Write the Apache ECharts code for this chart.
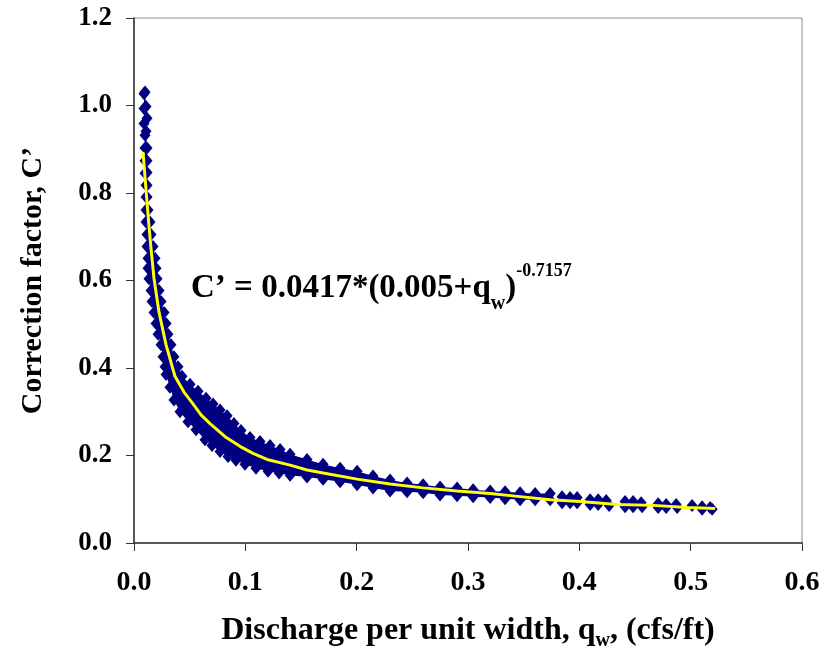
<!DOCTYPE html>
<html>
<head>
    <meta charset="UTF-8">
    <title>Correction factor</title>
    <script src="https://cdn.jsdelivr.net/npm/echarts@6/dist/echarts.min.js"></script>
    <style>
        html, body { margin: 0; padding: 0; background: #fff; overflow: hidden; }
        #chart { width: 823px; height: 656px; }
    </style>
</head>
<body>
<div id="chart"></div>
<script type="text/javascript">
    // axis ticks
    var xTicks = [0, 0.1, 0.2, 0.3, 0.4, 0.5, 0.6];
    var yTicks = [0, 0.2, 0.4, 0.6, 0.8, 1.0, 1.2];

    // upper (right-hand) edge of the scatter cloud, [qw, C']
    var bandUpper = [
        [0.0099, 1.031], [0.0108, 0.998], [0.0117, 0.971], [0.0108, 0.941], [0.0117, 0.903],
        [0.0117, 0.874], [0.0117, 0.847], [0.0117, 0.818], [0.0117, 0.791], [0.0126, 0.761],
        [0.0144, 0.734], [0.0153, 0.705], [0.0171, 0.678], [0.0189, 0.651], [0.0198, 0.628],
        [0.0207, 0.604], [0.0225, 0.577], [0.0243, 0.552], [0.0270, 0.527], [0.0288, 0.502],
        [0.0305, 0.477], [0.0332, 0.453], [0.0359, 0.426], [0.0395, 0.403], [0.0431, 0.381],
        [0.0503, 0.363], [0.0575, 0.347], [0.0647, 0.331], [0.0710, 0.318], [0.0773, 0.304],
        [0.0836, 0.291], [0.0898, 0.273], [0.0961, 0.257], [0.1042, 0.241], [0.1132, 0.232],
        [0.1222, 0.223], [0.1312, 0.214], [0.1402, 0.203], [0.1554, 0.191], [0.1698, 0.180],
        [0.1851, 0.171], [0.2004, 0.164], [0.2147, 0.153], [0.2300, 0.144], [0.2453, 0.137],
        [0.2597, 0.133], [0.2749, 0.128], [0.2902, 0.126], [0.3046, 0.122], [0.3199, 0.119],
        [0.3333, 0.117], [0.3468, 0.115], [0.3603, 0.113], [0.3738, 0.113]
    ];

    // lower (left-hand) edge of the scatter cloud
    var bandLower = [
        [0.0090, 1.027], [0.0090, 0.993], [0.0090, 0.959], [0.0099, 0.932], [0.0099, 0.903],
        [0.0099, 0.874], [0.0099, 0.845], [0.0108, 0.818], [0.0108, 0.791], [0.0108, 0.761],
        [0.0108, 0.734], [0.0117, 0.705], [0.0117, 0.678], [0.0126, 0.651], [0.0126, 0.628],
        [0.0135, 0.604], [0.0153, 0.577], [0.0162, 0.552], [0.0180, 0.527], [0.0198, 0.502],
        [0.0216, 0.477], [0.0243, 0.453], [0.0261, 0.426], [0.0279, 0.403], [0.0288, 0.385],
        [0.0323, 0.356], [0.0359, 0.327], [0.0413, 0.300], [0.0485, 0.277], [0.0557, 0.259],
        [0.0638, 0.236], [0.0701, 0.223], [0.0773, 0.209], [0.0845, 0.198], [0.0916, 0.189],
        [0.0997, 0.180], [0.1096, 0.171], [0.1204, 0.164], [0.1303, 0.160], [0.1402, 0.155],
        [0.1554, 0.151], [0.1698, 0.146], [0.1851, 0.140], [0.2004, 0.133], [0.2147, 0.126],
        [0.2300, 0.119], [0.2453, 0.117], [0.2597, 0.115], [0.2749, 0.110], [0.2902, 0.108],
        [0.3046, 0.106], [0.3199, 0.104], [0.3333, 0.101], [0.3468, 0.099], [0.3603, 0.099],
        [0.3738, 0.099]
    ];

    // sparse groups of points at the high-discharge end
    var tailPoints = [
        [0.3845, 0.106], [0.3845, 0.092], [0.3917, 0.104], [0.3917, 0.092], [0.3980, 0.104], [0.3980, 0.092],
        [0.4097, 0.099], [0.4097, 0.088], [0.4169, 0.099], [0.4169, 0.088], [0.4241, 0.097], [0.4268, 0.086],
        [0.4411, 0.095], [0.4411, 0.083], [0.4483, 0.095], [0.4483, 0.083], [0.4555, 0.092], [0.4564, 0.083],
        [0.4708, 0.090], [0.4708, 0.081], [0.4780, 0.088], [0.4780, 0.081], [0.4870, 0.088], [0.4879, 0.081],
        [0.5013, 0.086],
        [0.5103, 0.083], [0.5103, 0.077], [0.5175, 0.081], [0.5193, 0.077]
    ];

    // fitted curve (yellow)
    var fitLine = [
        [0.0081, 0.894], [0.0099, 0.836], [0.0117, 0.779], [0.0135, 0.723], [0.0153, 0.673],
        [0.0180, 0.604], [0.0225, 0.527], [0.0288, 0.453], [0.0368, 0.381], [0.0449, 0.345],
        [0.0530, 0.318], [0.0602, 0.293], [0.0683, 0.273], [0.0818, 0.243], [0.0952, 0.221],
        [0.1069, 0.205], [0.1195, 0.191], [0.1402, 0.178], [0.1554, 0.167], [0.1698, 0.160],
        [0.2004, 0.146], [0.2300, 0.135], [0.2597, 0.126], [0.2902, 0.119], [0.3199, 0.113],
        [0.3468, 0.106], [0.3738, 0.099], [0.4007, 0.095], [0.4340, 0.088], [0.4663, 0.086],
        [0.4969, 0.081], [0.5220, 0.079]
    ];

    var serif = 'Liberation Serif';
    var navy = '#000080';

    var option = {
        animation: false,
        backgroundColor: '#fff',
        grid: {
            left: 134, right: 21, top: 18, bottom: 105,
            show: true, borderColor: '#8c8c8c', borderWidth: 1
        },
        xAxis: {
            type: 'value',
            min: xTicks[0], max: xTicks[xTicks.length - 1], interval: 0.1,
            splitLine: { show: false },
            axisLine: { lineStyle: { color: '#333', width: 1.5 } },
            axisTick: { show: true, inside: false, length: 8, lineStyle: { color: '#333' } },
            axisLabel: {
                margin: 26, color: '#000', fontFamily: serif, fontWeight: 'bold', fontSize: 28,
                formatter: function (v) { return v.toFixed(1); }
            },
            name: '{t|Discharge per unit width, q}{s|w}{t|, (cfs/ft)}',
            nameLocation: 'middle',
            nameGap: 68,
            nameTextStyle: {
                rich: {
                    t: { fontFamily: serif, fontWeight: 'bold', fontSize: 32, color: '#000', lineHeight: 40, verticalAlign: 'middle' },
                    s: { fontFamily: serif, fontWeight: 'bold', fontSize: 20, color: '#000', lineHeight: 30, verticalAlign: 'bottom' }
                }
            }
        },
        yAxis: {
            type: 'value',
            min: yTicks[0], max: yTicks[yTicks.length - 1], interval: 0.2,
            splitLine: { show: false },
            axisLine: { show: true, lineStyle: { color: '#333', width: 1.5 } },
            axisTick: { show: true, inside: false, length: 8, lineStyle: { color: '#333' } },
            axisLabel: {
                margin: 22, color: '#000', fontFamily: serif, fontWeight: 'bold', fontSize: 27,
                formatter: function (v) { return v.toFixed(1); }
            },
            name: 'Correction factor, C\u2019',
            nameLocation: 'middle',
            nameGap: 86,
            nameTextStyle: { fontFamily: serif, fontWeight: 'bold', fontSize: 30, color: '#000' }
        },
        graphic: [{
            type: 'text',
            left: 191,
            top: 262,
            style: {
                text: '{m|C\u2019 = 0.0417*(0.005+q}{s|w}{m|)}{p|-0.7157}',
                rich: {
                    m: { fontFamily: serif, fontWeight: 'bold', fontSize: 33, fill: '#000', lineHeight: 52, verticalAlign: 'middle' },
                    s: { fontFamily: serif, fontWeight: 'bold', fontSize: 20, fill: '#000', lineHeight: 42, verticalAlign: 'bottom' },
                    p: { fontFamily: serif, fontWeight: 'bold', fontSize: 18, fill: '#000', lineHeight: 22, verticalAlign: 'top' }
                }
            }
        }],
        series: [
            {
                // filled body of the dense point cloud
                type: 'custom',
                coordinateSystem: 'cartesian2d',
                data: [[bandUpper[0][0], bandUpper[0][1]]],
                z: 1,
                silent: true,
                renderItem: function (params, api) {
                    var pts = bandUpper.concat(bandLower.slice().reverse()).map(function (p) {
                        return api.coord(p);
                    });
                    return { type: 'polygon', shape: { points: pts }, style: { fill: navy } };
                }
            },
            {
                name: 'Data',
                type: 'scatter',
                symbol: 'diamond',
                symbolSize: [11, 13],
                itemStyle: { color: navy, opacity: 1 },
                z: 2,
                data: bandUpper.concat(bandLower, tailPoints)
            },
            {
                name: 'Fit',
                type: 'line',
                data: fitLine,
                showSymbol: false,
                symbol: 'none',
                smooth: false,
                z: 3,
                lineStyle: { color: '#ffff00', width: 3 }
            }
        ]
    };
    echarts.init(document.getElementById('chart')).setOption(option);
</script>
</body>
</html>
